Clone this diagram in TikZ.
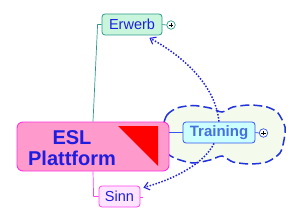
\documentclass[tikz,border=0pt]{standalone}
\usepackage{fontspec}
\setmainfont{Liberation Sans}
\usetikzlibrary{arrows.meta}
\definecolor{eslfill}{HTML}{FF9ACC}
\definecolor{eslline}{HTML}{FF33DD}
\definecolor{erfill}{HTML}{C8F5DC}
\definecolor{erline}{HTML}{2E9A8A}
\definecolor{trfill}{HTML}{CCFFFF}
\definecolor{trline}{HTML}{3355EE}
\definecolor{snfill}{HTML}{FFE4FF}
\definecolor{snline}{HTML}{FF44EE}
\definecolor{cloudfill}{HTML}{F4FBEC}
\definecolor{cloudline}{HTML}{2233DD}
\definecolor{txtblue}{HTML}{1E1EE0}
\definecolor{trtxt}{HTML}{4470E0}
\definecolor{dotblue}{HTML}{2222DD}
\tikzset{
  topic/.style={rounded corners=3pt, line width=0.8pt, inner sep=0pt, minimum height=21pt, text=txtblue, font=\fontsize{14.5}{17}\selectfont},
  plusc/.style={circle, draw, line width=0.7pt, fill=white, minimum size=8.5pt, inner sep=0pt},
  relarrow/.style={dotblue, line width=1.5pt, dash pattern=on 1.5pt off 1.6pt, -{Straight Barb[length=5pt,width=8pt,line width=1.1pt]}},
}
\begin{document}
\begin{tikzpicture}[x=1pt,y=-1pt]
\useasboundingbox (0,0) rectangle (300,222);
% cloud boundary
\draw[cloudline, fill=cloudfill, line width=1.5pt, dash pattern=on 9pt off 4pt]
  plot[smooth cycle, tension=0.45] coordinates {
  (163,127) (167,115) (177,108) (193,105.5) (210,108) (222,112) (233,107) (250,105)
  (267,107) (278,113) (285,127) (284,140) (280,153) (267,162) (250,164) (233,162)
  (222,156) (210,160) (193,163) (177,159) (168,154) (163,145)};
% nodes
\node[draw=eslline, fill=eslfill, rounded corners=6pt, line width=0.9pt, minimum width=152pt, minimum height=49pt, inner sep=0pt] (esl) at (93,146.5) {};
\fill[red] (118,126) -- (158,126) -- (158,166) -- cycle;
\node[text=txtblue, font=\bfseries\fontsize{20}{21}\selectfont, align=center, inner sep=0pt] (esltxt) at (72,148) {ESL\\Plattform};
\node[topic, draw=erline, fill=erfill, minimum width=60pt] (er) at (132,24.5) {Erwerb};
\node[topic, draw=trline, fill=trfill, minimum width=72pt, text=trtxt, font=\bfseries\fontsize{15}{17}\selectfont] (tr) at (219,132.5) {Training};
\node[topic, draw=snline, fill=snfill, minimum width=41pt] (sn) at (119.5,196.5) {Sinn};
\node[plusc, draw=erline] (erp) at (171,25) {};
\node[plusc, draw=trline] (trp) at (263.5,133) {};
\draw[line width=0.6pt] ([xshift=-2.3pt]erp.center) -- ([xshift=2.3pt]erp.center) ([yshift=-2.3pt]erp.center) -- ([yshift=2.3pt]erp.center);
\draw[line width=0.6pt] ([xshift=-2.3pt]trp.center) -- ([xshift=2.3pt]trp.center) ([yshift=-2.3pt]trp.center) -- ([yshift=2.3pt]trp.center);
% connectors
\draw[erline, line width=0.7pt] (esl.north) -- ([xshift=-4pt]er.west) -- (er.west);
\draw[snline, line width=0.7pt] (esl.south) -- ([xshift=-5pt]sn.west) -- (sn.west);
\draw[snline, line width=0.7pt] ([yshift=-0.5pt]sn.east) -- ([xshift=3pt,yshift=-0.5pt]sn.east);
\draw[trline, line width=0.8pt] (tr.west -| esl.east) -- (tr.west);
\draw[erline, line width=0.7pt] (er.east) -- (erp.west);
\draw[trline, line width=0.7pt] (tr.east) -- (trp.west);
% relationship arrows
\draw[relarrow] (tr.north) .. controls (216,90) and (190,60) .. ([shift={(-13,2.5)}]er.south east);
\draw[relarrow] ([xshift=-5pt]tr.south) .. controls (205,162) and (178,178) .. ([shift={(3,2)}]sn.north east);
\end{tikzpicture}
\end{document}
